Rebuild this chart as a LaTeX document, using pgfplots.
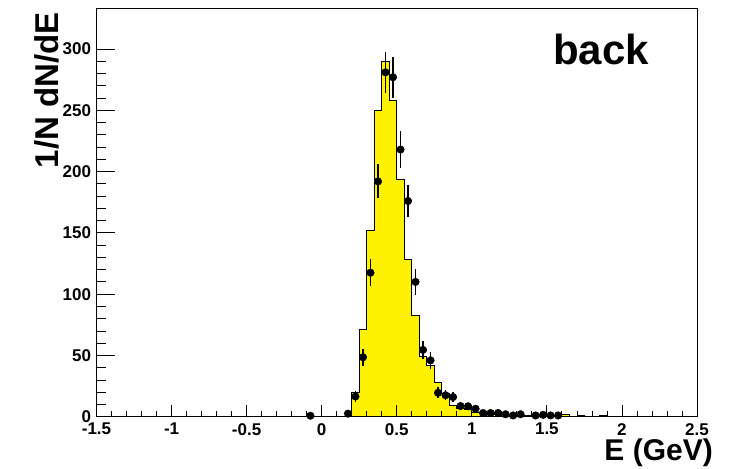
\documentclass[border=0pt]{standalone}
\usepackage{fontspec}
\setmainfont{Liberation Sans}
\usepackage{pgfplots}
\pgfplotsset{compat=1.18}

\begin{document}
\begin{tikzpicture}[x=1pt,y=1pt]
\useasboundingbox (0,0) rectangle (729,469);
\begin{axis}[
    scale only axis,
    width=600.5pt, height=408.7pt,
    at={(96.5pt,52.3pt)}, anchor=south west,
    xmin=-1.5, xmax=2.5, ymin=0, ymax=333.5,
    axis on top,
    axis line style={black, line width=0.9pt},
    xtick={-1.5,-1,-0.5,0,0.5,1,1.5,2,2.5},
    xticklabels={-1.5,-1,-0.5,0,0.5,1,1.5,2,2.5},
    ytick={0,50,100,150,200,250,300},
    minor x tick num=4, minor y tick num=4,
    xtick pos=bottom, ytick pos=left,
    tick align=inside,
    xtick style={black, line width=0.8pt, /pgfplots/major tick length=12pt, /pgfplots/minor tick length=6pt},
    ytick style={black, line width=0.8pt, /pgfplots/major tick length=18pt, /pgfplots/minor tick length=9pt},
    ticklabel style={font=\fontsize{17}{19}\selectfont\bfseries},
    /pgf/number format/assume math mode=true,
    xticklabel style={yshift=-3pt},
    yticklabel style={xshift=-2pt},
]
% MC histogram, 0.05 GeV bins (left edges)
\addplot[const plot mark left, fill=yellow, draw=black, line width=0.8pt] coordinates {
  (0.20,20) (0.25,71) (0.30,152) (0.35,250) (0.40,290) (0.45,258)
  (0.50,194) (0.55,128) (0.60,83) (0.65,49) (0.70,41.5) (0.75,28)
  (0.80,19) (0.85,9) (0.90,7) (0.95,6) (1.00,3.5) (1.05,2.5)
  (1.10,2) (1.15,1.5) (1.20,1.5) (1.25,1) (1.30,1) (1.35,1)
  (1.40,1) (1.45,1) (1.50,1) (1.55,1) (1.60,2) (1.65,2)
} \closedcycle;
\addplot[const plot mark left, fill=yellow, draw=black, line width=0.8pt] coordinates {
  (1.70,0.7) (1.75,0.7)
} \closedcycle;
\addplot[const plot mark left, fill=yellow, draw=black, line width=0.8pt] coordinates {
  (1.85,0.7) (1.90,0.7)
} \closedcycle;
% data
\addplot[only marks, mark=*, mark size=3.8pt, black,
  error bars/.cd, x dir=both, x explicit, y dir=both, y explicit,
  error mark=none, error bar style={line width=1.2pt, black}]
coordinates {
  (-0.075,0.8) +- (0.025,0.9)
  (0.175,2.5) +- (0.025,1.6)
  (0.225,16.5) +- (0.025,4.1)
  (0.275,48.5) +- (0.025,7.0)
  (0.325,117.5) +- (0.025,10.8)
  (0.375,192) +- (0.025,13.9)
  (0.425,281) +- (0.025,16.8)
  (0.475,277) +- (0.025,16.6)
  (0.525,218) +- (0.025,14.8)
  (0.575,176) +- (0.025,13.3)
  (0.625,110) +- (0.025,10.5)
  (0.675,54.5) +- (0.025,7.4)
  (0.725,46) +- (0.025,6.8)
  (0.775,19.5) +- (0.025,4.4)
  (0.825,17.5) +- (0.025,4.2)
  (0.875,16) +- (0.025,4.0)
  (0.925,8.7) +- (0.025,2.9)
  (0.975,8.5) +- (0.025,2.9)
  (1.025,6.5) +- (0.025,2.5)
  (1.075,3) +- (0.025,1.7)
  (1.125,3) +- (0.025,1.7)
  (1.175,3) +- (0.025,1.7)
  (1.225,2) +- (0.025,1.4)
  (1.275,1) +- (0.025,1.0)
  (1.325,2) +- (0.025,1.4)
  (1.425,1) +- (0.025,1.0)
  (1.475,1.5) +- (0.025,1.2)
  (1.525,1) +- (0.025,1.0)
  (1.575,1) +- (0.025,1.0)
};
\end{axis}
\node[anchor=base west, inner sep=0pt, font=\fontsize{42}{46}\selectfont\bfseries] at (553,404) {back};
\node[anchor=base east, inner sep=0pt, font=\fontsize{30}{34}\selectfont\bfseries] at (713,9) {E (GeV)};
\node[anchor=base east, rotate=90, inner sep=0pt, font=\fontsize{33}{37}\selectfont\bfseries] at (58,457) {1/N dN/dE};
\end{tikzpicture}
\end{document}
